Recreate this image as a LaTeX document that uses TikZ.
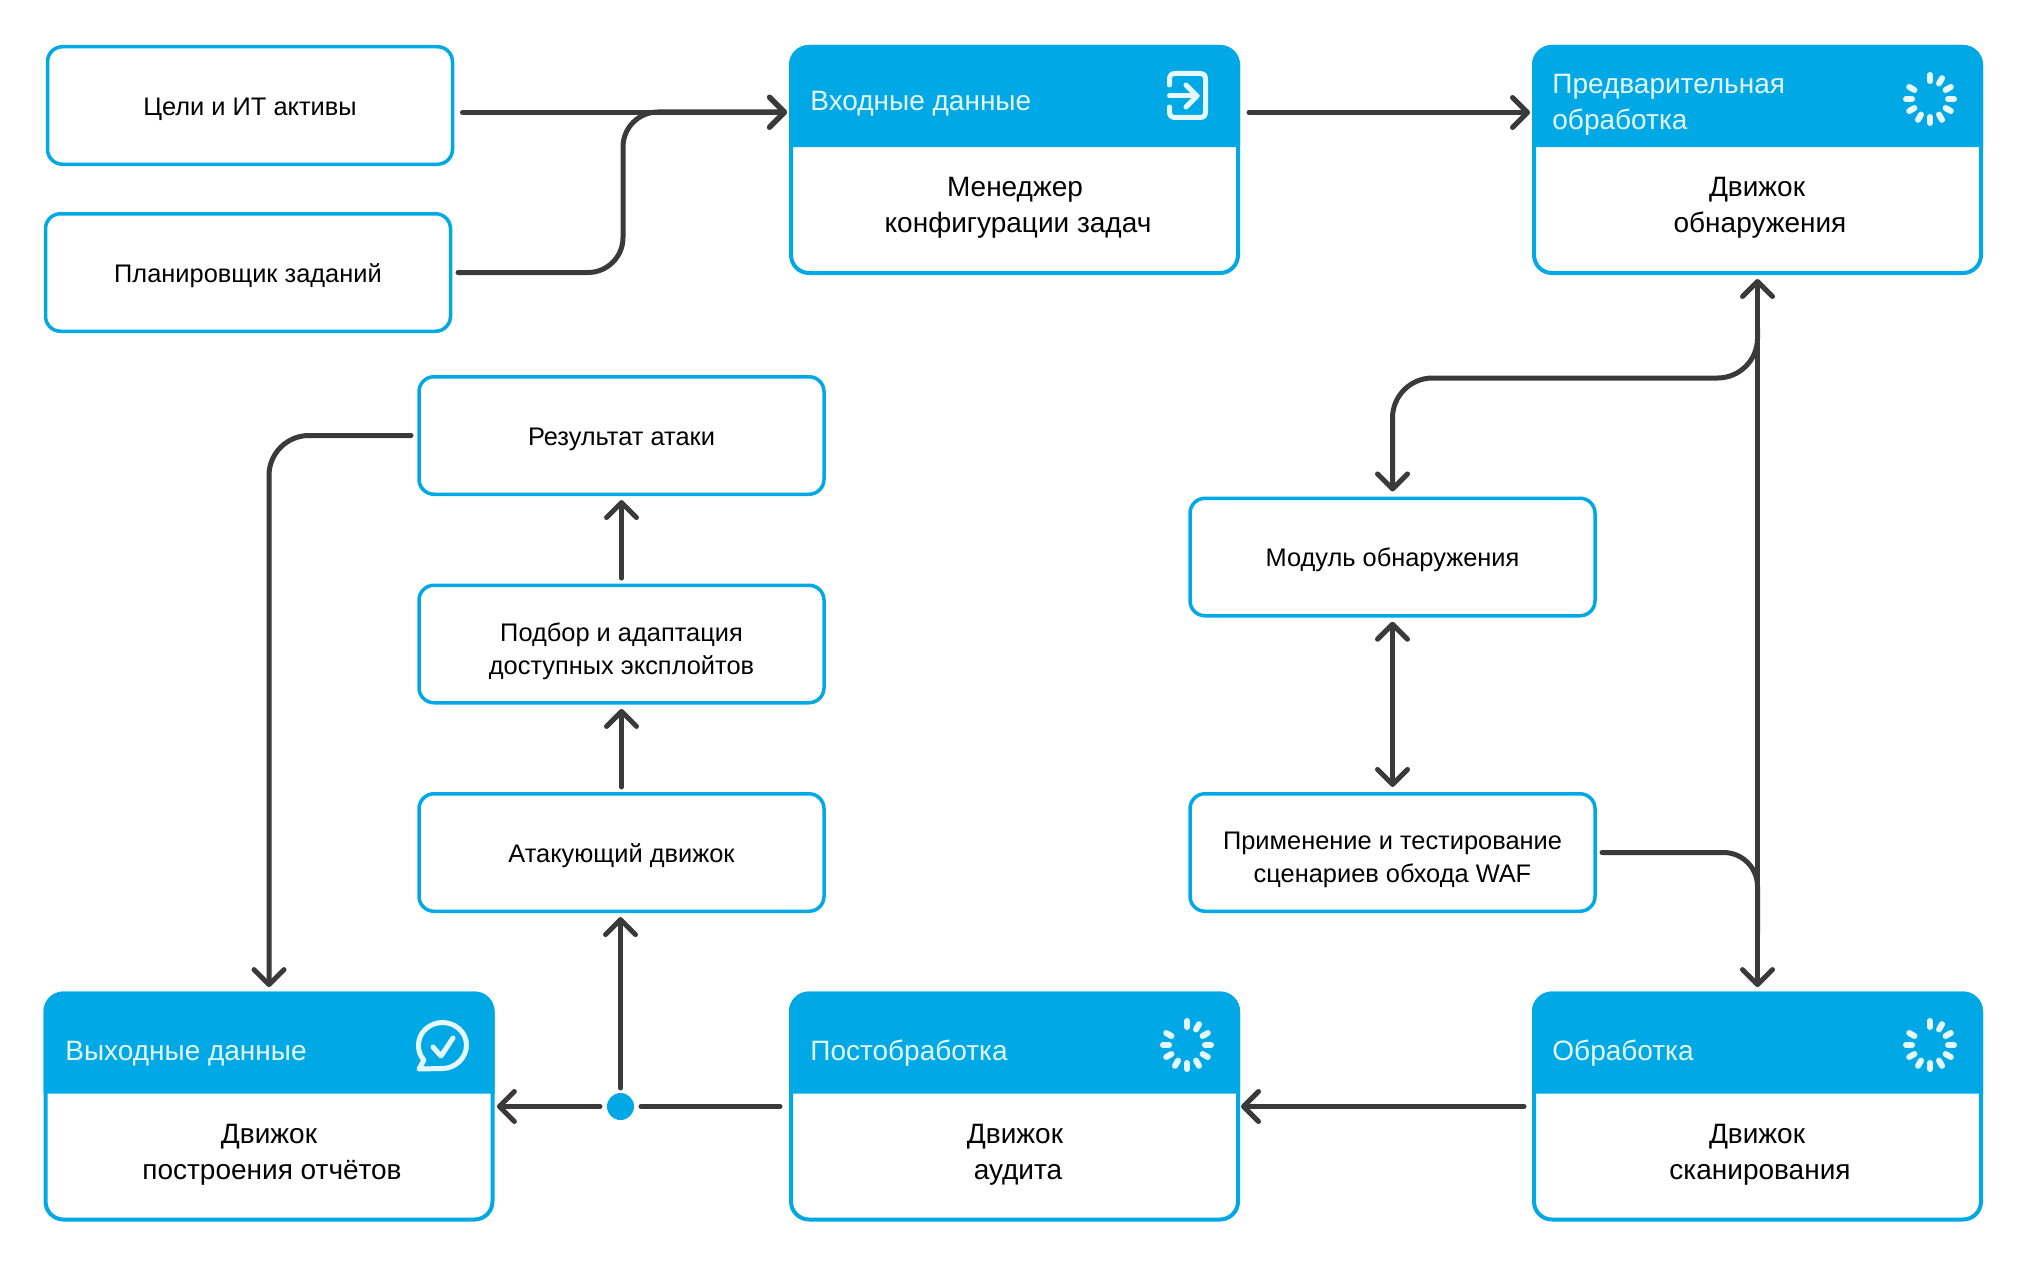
\documentclass[tikz,border=0pt]{standalone}
\usepackage{fontspec}
\setmainfont{Liberation Sans}
\usetikzlibrary{arrows.meta,calc}
\definecolor{pblue}{HTML}{00A9E6}
\definecolor{lineg}{HTML}{3A3A3A}
\definecolor{htext}{HTML}{E6F8FF}
\tikzset{
  boxs/.style={draw=pblue,line width=1.75pt,fill=white,rounded corners=7.5pt,minimum width=202.5pt,minimum height=58.75pt,outer sep=0pt,inner sep=0pt,text=black,font=\fontsize{12.7}{16.5}\selectfont},
  panelb/.style={draw=pblue,line width=2pt,fill=white,rounded corners=9pt,minimum width=223.5pt,minimum height=113pt,outer sep=0pt,inner sep=0pt},
  htxt/.style={anchor=west,text=htext,inner sep=0pt,align=left,font=\fontsize{14}{18}\selectfont},
  btxt/.style={text=black,inner sep=0pt,align=center,font=\fontsize{14}{18}\selectfont},
  conn/.style={draw=lineg,line width=2.5pt,line cap=round,line join=round},
  tipp/.tip={Straight Barb[length=7.5pt,width=15pt,round]},
  icon/.style={draw=htext,line width=2.5pt,line cap=round,line join=round},
}
\newcommand{\lbl}[2]{\raisebox{-#1pt}[\height][\depth]{\begin{tabular}{@{}c@{}}#2\end{tabular}}}
\newcommand{\hdrfill}[1]{%
  \fill[pblue] ([shift={(-2,100)}]#1.north west) [rounded corners=10pt] -- ([shift={(-2,-2)}]#1.north west) -- ([shift={(2,-2)}]#1.north east) [sharp corners] -- ([shift={(2,100)}]#1.north east) -- cycle;}
\newcommand{\spinner}[2]{%
  \foreach \a in {0,30,60,90,150,180,210,240,270,300,330}{
    \draw[icon,line width=3pt] ({#1+18*cos(\a)},{#2-18*sin(\a)}) -- ({#1+24*cos(\a)},{#2-24*sin(\a)});}}
\begin{document}
\begin{tikzpicture}[x=0.5pt,y=-0.5pt,>=tipp]
\useasboundingbox (0,0) rectangle (2028,1268);
\fill[white] (0,0) rectangle (2028,1268);
% small boxes
\node[boxs] (tseli) at (250,105.5) {\lbl{1.6}{Цели и ИТ активы}};
\node[boxs] (plan) at (248,272.5) {\lbl{1.6}{Планировщик заданий}};
\node[boxs] (rez) at (621.5,435.5) {\lbl{1.6}{Результат атаки}};
\node[boxs] (podbor) at (621.5,644) {\lbl{3.5}{Подбор и адаптация\\доступных эксплойтов}};
\node[boxs] (atak) at (621.5,852.5) {\lbl{1.6}{Атакующий движок}};
\node[boxs] (modul) at (1392.5,557) {\lbl{1.6}{Модуль обнаружения}};
\node[boxs] (prim) at (1392.5,852.5) {\lbl{3.5}{Применение и тестирование\\сценариев обхода WAF}};
% panels
\node[panelb] (vhod) at (1014.5,160) {};
\node[panelb] (pred) at (1757.5,160) {};
\node[panelb] (vyh) at (269,1106.5) {};
\node[panelb] (post) at (1014.5,1106.5) {};
\node[panelb] (obr) at (1757.5,1106.5) {};
\hdrfill{vhod}\hdrfill{pred}\hdrfill{vyh}\hdrfill{post}\hdrfill{obr}
\node[htxt] (t1) at (810,104) {Входные данные};
\node[htxt] (t2) at (1552,104.5) {Предварительная\\обработка};
\node[htxt] (t3) at (65,1054) {Выходные данные};
\node[htxt] (t4) at (810,1053) {Постобработка};
\node[htxt] (t5) at (1552,1053) {Обработка};
\node[btxt] (b1) at (1015,208) {Менеджер\\\hspace*{3pt}конфигурации задач};
\node[btxt] (b2) at (1757,208) {Движок\\\hspace*{3pt}обнаружения};
\node[btxt] (b3) at (269,1155) {Движок\\\hspace*{3pt}построения отчётов};
\node[btxt] (b4) at (1015,1155) {Движок\\\hspace*{3pt}аудита};
\node[btxt] (b5) at (1757,1155) {Движок\\\hspace*{3pt}сканирования};
% icons
\draw[icon] (1169.5,85) -- (1169.5,80) .. controls (1169.5,75) and (1171,73.5) .. (1176,73.5) -- (1199,73.5) .. controls (1204,73.5) and (1205.5,75) .. (1205.5,80) -- (1205.5,111) .. controls (1205.5,116) and (1204,117.5) .. (1199,117.5) -- (1176,117.5) .. controls (1171,117.5) and (1169.5,116) .. (1169.5,111) -- (1169.5,107);
\draw[icon] (1169.5,96) -- (1197,96);
\draw[icon] (1186,85) -- (1197,96) -- (1186,107);
\spinner{1930}{99}
\spinner{1930}{1045}
\spinner{1187}{1045}
\draw[icon] (442.5,1068.5) .. controls (455,1068.5) and (466.5,1058) .. (466.5,1045) .. controls (466.5,1032) and (455,1022.5) .. (442.5,1022.5) .. controls (430,1022.5) and (418.5,1032) .. (418.5,1045) .. controls (418.5,1051) and (420,1056) .. (424,1060) -- (419,1069) -- cycle;
\draw[icon] (433,1047) -- (441,1056) -- (453,1038);
% connectors
\coordinate (jA) at (623,112);
\coordinate (jP) at (458,272.5);
\coordinate (jB) at (1757.5,378);
\coordinate (jC) at (1757.5,852.5);
\coordinate (jD) at (269,435.5);
\node[circle,fill=pblue,minimum size=13.5pt,inner sep=0pt,outer sep=0pt] (dot) at (620.5,1106.5) {};
\draw[conn,->] ([shift={(10,7)}]tseli.east) -- ([shift={(-4,-47.5)}]vhod.west);
\draw[conn,->,rounded corners=17.5pt] (jP) -- (jP -| jA) -- (jA) -- ([shift={(-4,-48)}]vhod.west);
\draw[conn,->] ([shift={(11,-47.5)}]vhod.east) -- ([shift={(-4,-47.5)}]pred.west);
\draw[conn,<->] ([yshift=-3pt]pred.south) -- ([yshift=3.2pt]obr.north);
\draw[conn,->,rounded corners=20pt] ([yshift=-28pt]pred.south) -- (jB) -- (jB -| modul.north) -- ([yshift=3.4pt]modul.north);
\draw[conn,<->] ([yshift=-3pt]modul.south) -- ([yshift=3.4pt]prim.north);
\draw[conn,rounded corners=17pt] ([xshift=3.5pt]prim.east) -- (jC) -- ([yshift=30pt]obr.north);
\draw[conn,->] ([xshift=-5pt]obr.west) -- ([xshift=1.5pt]post.east);
\draw[conn] ([xshift=-5.5pt]post.west) -- ([xshift=3.5pt]dot.east);
\draw[conn,->] ([xshift=-3.5pt]dot.west) -- ([xshift=2.2pt]vyh.east);
\draw[conn,->] ([yshift=2.5pt]dot.north) -- ([yshift=-2.9pt]atak.south -| dot.north);
\draw[conn,->] ([yshift=3.4pt]atak.north) -- ([yshift=-3.1pt]podbor.south);
\draw[conn,->] ([yshift=3.6pt]podbor.north) -- ([yshift=-2.9pt]rez.south);
\draw[conn,->,rounded corners=20pt] ([xshift=-4pt]rez.west) -- (jD) -- ([yshift=3.2pt]vyh.north);
\end{tikzpicture}
\end{document}
